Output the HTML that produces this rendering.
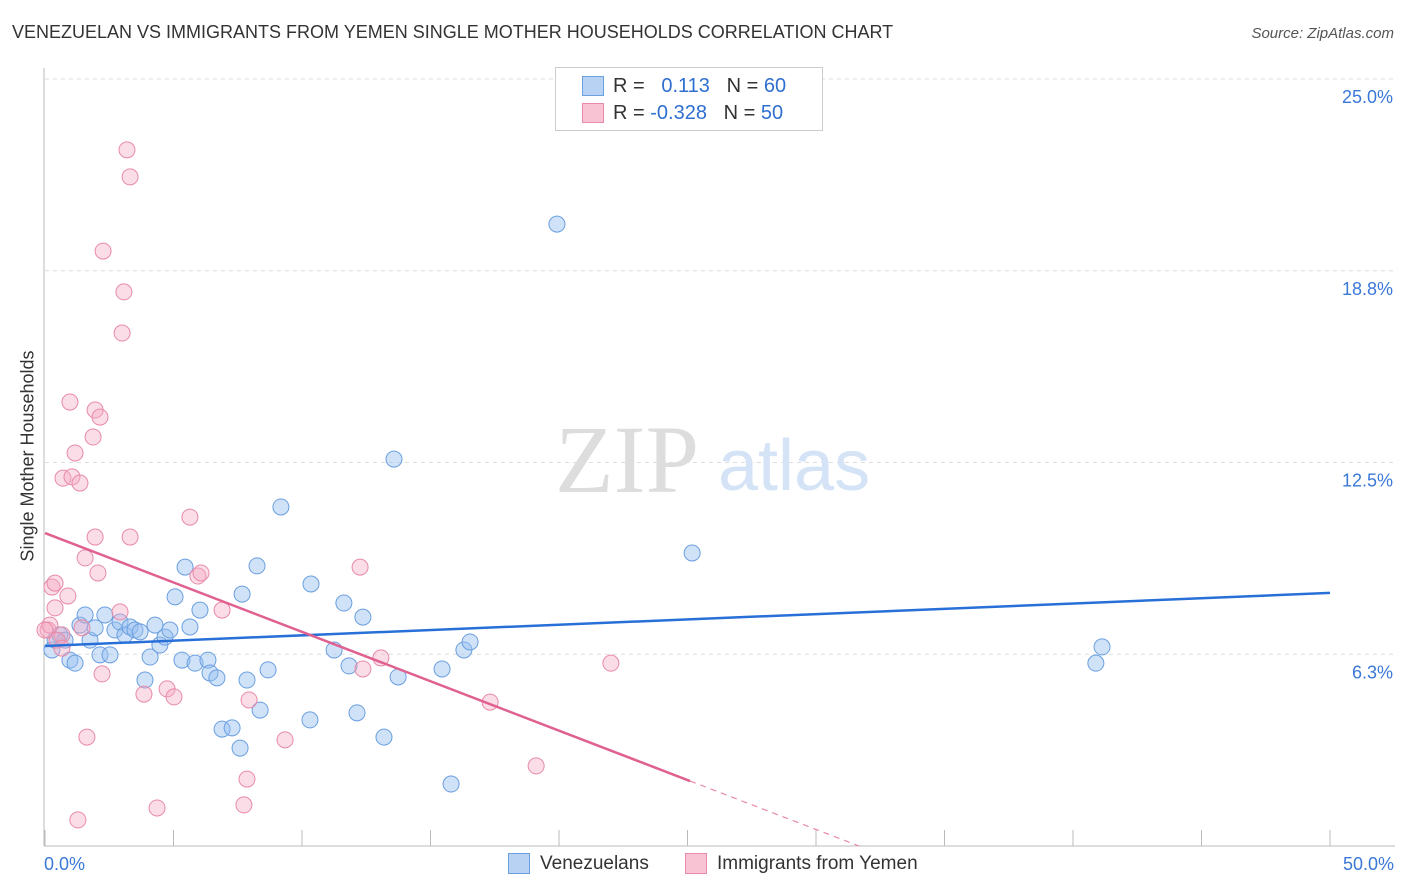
<!DOCTYPE html>
<html><head><meta charset="utf-8">
<style>
body{margin:0;background:#fff;font-family:"Liberation Sans",sans-serif;}
#wrap{position:relative;width:1406px;height:892px;overflow:hidden;}
.t{position:absolute;white-space:nowrap;}
</style></head>
<body>
<div id="wrap">
<div class="t" style="left:12px;top:22px;font-size:18px;color:#333;">VENEZUELAN VS IMMIGRANTS FROM YEMEN SINGLE MOTHER HOUSEHOLDS CORRELATION CHART</div>
<div class="t" style="right:12px;top:25px;font-size:15px;color:#555;font-style:italic;">Source: ZipAtlas.com</div>
<div class="t" style="left:28px;top:456px;font-size:18px;color:#333;transform:translate(-50%,-50%) rotate(-90deg);">Single Mother Households</div>
<svg id="svg" width="1406" height="892" style="position:absolute;left:0;top:0"></svg>
<div style="position:absolute;left:555px;top:67px;width:266px;height:62px;border:1px solid #ccc;background:#fff;font-size:20px;">
 <div style="position:absolute;left:26px;top:8px;width:20px;height:18px;background:#b8d2f4;border:1px solid #6a9fe0;"></div>
 <div class="t" style="left:57px;top:7px;color:#333;">R = &nbsp;&nbsp;<span style="color:#2f6fd0">0.113</span>&nbsp;&nbsp;&nbsp;N = <span style="color:#2f6fd0">60</span></div>
 <div style="position:absolute;left:26px;top:35px;width:20px;height:18px;background:#f8c4d4;border:1px solid #e88aa8;"></div>
 <div class="t" style="left:57px;top:34px;color:#333;">R = <span style="color:#2f6fd0">-0.328</span>&nbsp;&nbsp;&nbsp;N = <span style="color:#2f6fd0">50</span></div>
</div>
<div style="position:absolute;left:508px;top:853px;width:20px;height:19px;background:#b8d2f4;border:1px solid #6a9fe0;"></div>
<div class="t" style="left:540px;top:853px;font-size:19px;color:#333;">Venezuelans</div>
<div style="position:absolute;left:685px;top:853px;width:20px;height:19px;background:#f8c4d4;border:1px solid #e88aa8;"></div>
<div class="t" style="left:717px;top:853px;font-size:19px;color:#333;">Immigrants from Yemen</div>
</div>
<script>
const blueX=[0.27,0.39,0.58,0.78,0.97,1.17,1.36,1.56,1.75,1.95,2.14,2.33,2.53,2.72,2.92,3.11,3.31,3.50,3.70,3.89,4.09,4.28,4.47,4.67,4.86,5.06,5.33,5.45,5.64,5.84,6.03,6.34,6.42,6.69,6.89,7.28,7.59,7.67,7.86,8.25,8.37,8.68,9.18,10.31,10.35,11.25,11.63,11.83,12.14,12.37,13.19,13.58,13.74,15.45,15.80,16.30,16.54,19.92,25.18,40.89,41.13];
const blueY=[6.39,6.71,6.88,6.71,6.06,5.96,7.20,7.53,6.71,7.11,6.23,7.53,6.23,7.04,7.30,6.88,7.14,7.04,6.98,5.41,6.16,7.20,6.55,6.81,7.04,8.12,6.06,9.09,7.14,5.96,7.69,6.06,5.64,5.48,3.81,3.85,3.19,8.21,5.41,9.13,4.43,5.74,11.05,4.11,8.54,6.39,7.92,5.87,4.34,7.46,3.55,12.61,5.51,5.77,2.02,6.39,6.65,20.27,9.55,5.96,6.49];
const pinkX=[0.12,0.27,0.39,0.66,0.89,0.97,1.17,0.70,1.05,1.36,1.28,1.44,1.56,1.63,1.87,1.95,1.95,2.06,2.14,2.22,2.26,2.92,3.07,3.00,3.19,3.31,3.31,3.85,4.36,4.75,5.02,5.64,5.95,6.07,6.89,7.74,7.86,7.94,9.34,12.26,12.37,13.07,17.32,19.11,22.02,0.19,0.47,0.66,0.00,0.39];
const pinkY=[7.04,8.44,8.57,6.88,8.15,14.47,12.81,11.99,12.03,11.83,0.85,7.11,9.39,3.55,13.33,14.21,10.07,8.90,13.98,5.61,19.39,7.63,18.06,16.72,22.69,21.81,10.07,4.95,1.24,5.12,4.86,10.72,8.80,8.90,7.69,1.34,2.18,4.76,3.46,9.09,5.77,6.13,4.69,2.61,5.96,7.20,6.71,6.45,7.04,7.76];
const yTicks=[6.25,12.5,18.75,25];
const yTickLabels=["6.3%","12.5%","18.8%","25.0%"];
const xTicks=[0,5,10,15,20,25,30,35,40,45,50];
const blueFit=[6.52,8.25]; // y at x=0 and x=50
const pinkFit=[10.2,-0.322]; // intercept, slope
const pinkSolidEnd=25.1;
const X=v=>45+v*25.7, Y=v=>846-v*30.68;
const svg=document.getElementById('svg'), NS='http://www.w3.org/2000/svg';
function mk(t,a){const e=document.createElementNS(NS,t);for(const k in a)e.setAttribute(k,a[k]);svg.appendChild(e);return e;}
yTicks.forEach((v,i)=>{
 const g=mk('line',{x1:45,x2:1395,y1:Y(v),y2:Y(v),stroke:'#ddd','stroke-dasharray':'4,4'});
 
 
 const t=mk('text',{x:1393,y:Y(v)+24,'text-anchor':'end','font-size':18,fill:'#3a78d8','font-family':'Liberation Sans'});
 t.textContent=yTickLabels[i];
 
 
});
const ax=mk('line',{x1:44,x2:44,y1:68,y2:846,stroke:'#bbb'});


const bx=mk('line',{x1:44,x2:1395,y1:846,y2:846,stroke:'#bbb'});


xTicks.forEach(v=>{
 const l=mk('line',{x1:X(v),x2:X(v),y1:830,y2:846,stroke:'#bbb'});
 
 
});
[[0,'0.0%',44,'start'],[50,'50.0%',1394,'end']].forEach(a=>{
 const t=mk('text',{x:a[2],y:870,'text-anchor':a[3],'font-size':18,fill:'#3a78d8','font-family':'Liberation Sans'});
 t.textContent=a[1];
 
 
});
const w1=mk('text',{x:555,y:492,'font-size':96,fill:'#ddd','font-family':'Liberation Serif'});
w1.textContent='ZIP';


const w2=mk('text',{x:718,y:490,'font-size':72,fill:'#d4e3f6','font-family':'Liberation Sans'});
w2.textContent='atlas';


blueX.forEach((v,i)=>{
 const c=mk('circle',{cx:X(v),cy:Y(blueY[i]),r:8,fill:'rgba(150,190,240,0.45)',stroke:'#6a9fe0','stroke-width':1});
 
 
});
pinkX.forEach((v,i)=>{
 const c=mk('circle',{cx:X(v),cy:Y(pinkY[i]),r:8,fill:'rgba(244,170,196,0.4)',stroke:'#e88aa8','stroke-width':1});
 
 
});
const bl=mk('line',{x1:X(0),y1:Y(blueFit[0]),x2:X(50),y2:Y(blueFit[1]),stroke:'#2870d8','stroke-width':2.5});


const pe=-pinkFit[0]/pinkFit[1];
const pl=mk('line',{x1:X(0),y1:Y(pinkFit[0]),x2:X(pinkSolidEnd),y2:Y(pinkFit[0]+pinkFit[1]*pinkSolidEnd),stroke:'#e06090','stroke-width':2.5});


const pd=mk('line',{x1:X(pinkSolidEnd),y1:Y(pinkFit[0]+pinkFit[1]*pinkSolidEnd),x2:X(pe),y2:Y(0),stroke:'#e88aa8','stroke-width':1.2,'stroke-dasharray':'6,5'});


</script>
</body></html>
